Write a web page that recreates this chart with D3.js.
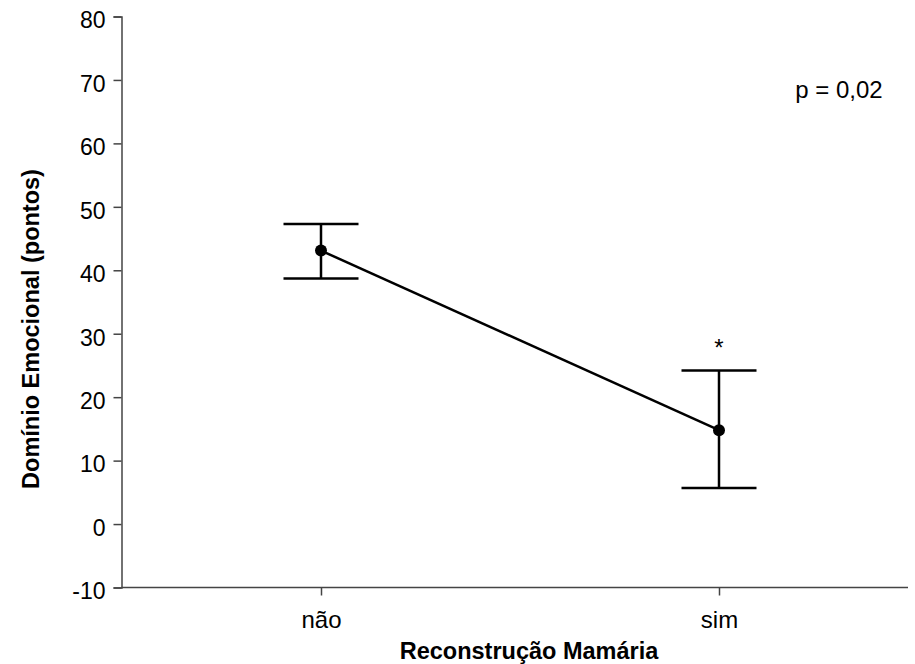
<!DOCTYPE html>
<html><head><meta charset="utf-8">
<script src="https://cdn.jsdelivr.net/npm/d3@7"></script>
<style>body{margin:0;background:#fff}svg{display:block}text{font-family:"Liberation Sans",Arial,sans-serif}</style>
</head><body><svg id="c" width="915" height="664"></svg>
<script>
const categories = ["não", "sim"];
const means = [43.1, 14.8];
const upper = [47.3, 24.2];
const lower = [38.7, 5.7];
const yTicks = [-10, 0, 10, 20, 30, 40, 50, 60, 70, 80];

const svg = d3.select("#c");
const y = d3.scaleLinear().domain([-10, 80]).range([587.5, 16.5]);
const x = d3.scalePoint().domain(categories).range([122, 918]).padding(0.5);
const axL = 121.5, axR = 908;
const FF = "Liberation Sans, Arial, sans-serif";

// y axis
const ya = svg.append("g").attr("transform", `translate(${axL},0)`)
  .call(d3.axisLeft(y).tickValues(yTicks).tickSize(8).tickPadding(8).tickFormat(d => String(d)));
ya.select(".domain").attr("stroke", "#444").attr("stroke-width", 1.5);
ya.selectAll(".tick line").attr("stroke", "#444").attr("stroke-width", 1.5);
ya.selectAll("text").attr("font-size", 23).attr("fill", "#000").attr("font-family", FF).attr("dy", "0.49em");

// x axis
const xa = svg.append("g").attr("transform", `translate(0,${y(-10)})`)
  .call(d3.axisBottom(x).tickSize(8).tickPadding(15).tickSizeOuter(0));
xa.select(".domain").attr("d", `M${axL},0H${axR}`).attr("stroke", "#444").attr("stroke-width", 1.5);
xa.selectAll(".tick line").attr("stroke", "#444").attr("stroke-width", 1.5);
xa.selectAll("text").attr("font-size", 24).attr("fill", "#000").attr("font-family", FF);

const data = categories.map((c, i) => ({c, m: means[i], u: upper[i], l: lower[i]}));
const g = svg.append("g");
const cap = 37.5;
data.forEach(d => {
  const cx = x(d.c);
  g.append("line").attr("x1", cx).attr("x2", cx).attr("y1", y(d.u)).attr("y2", y(d.l)).attr("stroke", "#000").attr("stroke-width", 2.5);
  g.append("line").attr("x1", cx - cap).attr("x2", cx + cap).attr("y1", y(d.u)).attr("y2", y(d.u)).attr("stroke", "#000").attr("stroke-width", 2.5);
  g.append("line").attr("x1", cx - cap).attr("x2", cx + cap).attr("y1", y(d.l)).attr("y2", y(d.l)).attr("stroke", "#000").attr("stroke-width", 2.5);
});
g.append("path").datum(data).attr("fill", "none").attr("stroke", "#000").attr("stroke-width", 2.5)
  .attr("d", d3.line().x(d => x(d.c)).y(d => y(d.m)));
g.selectAll("circle").data(data).join("circle").attr("cx", d => x(d.c)).attr("cy", d => y(d.m)).attr("r", 6).attr("fill", "#000");

// asterisk
svg.append("text").attr("x", x("sim")).attr("y", 356).attr("text-anchor", "middle").attr("font-size", 24).text("*");
// p value
svg.append("text").attr("x", 839).attr("y", 98).attr("text-anchor", "middle").attr("font-size", 24).text("p = 0,02");

// axis titles
svg.append("text").attr("x", 529).attr("y", 659).attr("text-anchor", "middle").attr("font-size", 23.5).attr("font-weight", "bold").text("Reconstrução Mamária");
svg.append("text").attr("transform", "translate(39,329) rotate(-90)").attr("text-anchor", "middle").attr("font-size", 23.5).attr("font-weight", "bold").text("Domínio Emocional (pontos)");
</script></body></html>
